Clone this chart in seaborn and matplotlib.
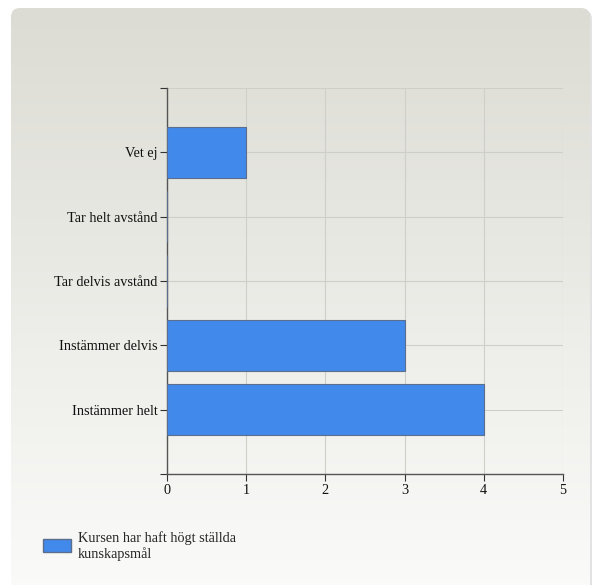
import numpy as np
import pandas as pd
import seaborn as sns
import matplotlib.pyplot as plt
from matplotlib.patches import FancyBboxPatch, Patch

# data
categories = ["Vet ej", "Tar helt avstånd", "Tar delvis avstånd",
              "Instämmer delvis", "Instämmer helt"]
counts = [1, 0, 0, 3, 4]
series_name = "Kursen har haft högt ställda\nkunskapsmål"
x_ticks = [0, 1, 2, 3, 4, 5]

bar_color = "#4289ec"
edge_color = "#5b6f8c"
grid_color = "#cfcfca"
axis_color = "#555555"

df = pd.DataFrame({"kategori": categories, "antal": counts})

sns.set_style("white")
plt.rcParams["font.family"] = ["Liberation Serif", "DejaVu Serif"]
plt.rcParams["font.size"] = 10.3

W, H = 594, 585
fig = plt.figure(figsize=(W / 100, H / 100), dpi=100)
fig.patch.set_facecolor("white")

# ------------------------------
# panel background with gradient + rounded corners
# ------------------------------
bg = fig.add_axes([0, 0, 1, 1], zorder=-5)
shadow = FancyBboxPatch((13, 10), 579, 590, boxstyle="round,pad=0,rounding_size=9",
                        fc="#e2e2e2", ec="none", zorder=0)
bg.add_patch(shadow)
panel = FancyBboxPatch((11, 8), 579, 590, boxstyle="round,pad=0,rounding_size=9",
                       fc="none", ec="none", zorder=1)
bg.add_patch(panel)
grad = np.linspace(0, 1, 256).reshape(-1, 1)
top = np.array([220, 220, 212]) / 255
bot = np.array([251, 251, 250]) / 255
img = top + (bot - top) * grad[..., None]
im = bg.imshow(img, extent=[11, 590, 598, 8], aspect="auto",
               interpolation="bilinear", zorder=2)
im.set_clip_path(panel)
bg.set_xlim(0, W)
bg.set_ylim(H, 0)
bg.axis("off")

# ------------------------------
# chart
# ------------------------------
ax = fig.add_axes([167 / W, 1 - 474 / H, (563 - 167) / W, (474 - 88) / H])
ax.patch.set_alpha(0)
sns.barplot(data=df, x="antal", y="kategori", order=categories, orient="h",
            color=bar_color, edgecolor=edge_color, linewidth=0.8,
            width=0.8, saturation=1, ax=ax, zorder=3)

ax.set_xlim(0, 5)
ax.set_ylim(len(categories), -1)
ax.set_xticks(x_ticks)
ax.set_xticklabels([str(t) for t in x_ticks])
ax.set_yticks(range(-1, len(categories) + 1))
ax.set_yticklabels([""] + categories + [""])
ax.set_xlabel("")
ax.set_ylabel("")

ax.grid(True, color=grid_color, linewidth=0.8, zorder=0)
ax.set_axisbelow(True)
for s in ["top", "right"]:
    ax.spines[s].set_visible(False)
for s in ["left", "bottom"]:
    ax.spines[s].set_color(axis_color)
    ax.spines[s].set_linewidth(1.0)
ax.tick_params(axis="both", length=5, width=0.8, color="#333333",
               labelcolor="#111111", pad=2, left=True, bottom=True)

# legend
fig.legend(handles=[Patch(facecolor=bar_color, edgecolor=edge_color, label=series_name)],
           loc="upper left", bbox_to_anchor=(30 / W, 1 - 518 / H), frameon=False,
           handlelength=2.0, handleheight=1.0, handletextpad=0.45, fontsize=10.3)

fig.savefig("out.png", dpi=100)
